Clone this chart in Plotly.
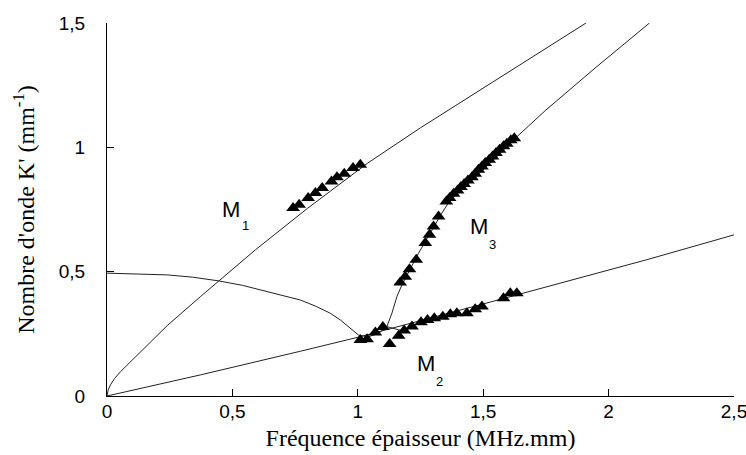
import plotly.graph_objects as go

# Dispersion curves (theory)
mode1_x = [0, 0.005, 0.014, 0.03, 0.054, 0.107, 0.24, 0.373, 0.445, 0.592, 0.80, 1.04,
           1.249, 1.429, 1.647, 1.91]
mode1_y = [0, 0.025, 0.045, 0.07, 0.098, 0.15, 0.283, 0.40, 0.463, 0.588, 0.755, 0.937,
           1.078, 1.192, 1.333, 1.5]

mode2_x = [0, 0.373, 0.771, 1.0, 1.5, 2.152, 2.5]
mode2_y = [0, 0.085, 0.18, 0.236, 0.37, 0.548, 0.648]

mode3_x = [0, 0.12, 0.24, 0.34, 0.445, 0.54, 0.638, 0.71, 0.771, 0.83, 0.89, 0.93, 0.97,
           1.003, 1.04, 1.08, 1.116, 1.136, 1.156, 1.176, 1.242, 1.296, 1.335, 1.369, 1.45,
           1.55, 1.621, 1.68, 1.75, 1.95, 2.163]
mode3_y = [0.494, 0.492, 0.487, 0.478, 0.463, 0.445, 0.42, 0.403, 0.386, 0.362, 0.333, 0.306,
           0.273, 0.245, 0.238, 0.25, 0.279, 0.333, 0.40, 0.447, 0.574, 0.668, 0.735, 0.789,
           0.862, 0.958, 1.03, 1.085, 1.15, 1.322, 1.5]

branch_x = [1.116, 1.14, 1.163, 1.196]
branch_y = [0.279, 0.272, 0.266, 0.262]

# Measured points
m1_x = [0.742, 0.766, 0.802, 0.831, 0.858, 0.895, 0.917, 0.946, 0.981, 1.010]
m1_y = [0.756, 0.769, 0.796, 0.816, 0.836, 0.863, 0.880, 0.894, 0.917, 0.930]

m2_x = [1.010, 1.037, 1.070, 1.100, 1.127, 1.163, 1.185, 1.216, 1.252, 1.278, 1.305, 1.339,
        1.369, 1.395, 1.435, 1.468, 1.495, 1.581, 1.608, 1.634]
m2_y = [0.225, 0.228, 0.255, 0.277, 0.209, 0.242, 0.263, 0.279, 0.297, 0.306, 0.313, 0.319,
        0.329, 0.333, 0.333, 0.349, 0.360, 0.393, 0.413, 0.413]

m3_x = [1.169, 1.189, 1.206, 1.233, 1.269, 1.286, 1.302, 1.322, 1.353, 1.366, 1.382, 1.398,
        1.411, 1.424, 1.439, 1.455, 1.468, 1.481, 1.495, 1.508, 1.524, 1.537, 1.551, 1.565,
        1.581, 1.594, 1.610, 1.624]
m3_y = [0.456, 0.480, 0.510, 0.548, 0.615, 0.648, 0.682, 0.722, 0.782, 0.796, 0.813, 0.826,
        0.840, 0.853, 0.867, 0.880, 0.894, 0.910, 0.923, 0.937, 0.950, 0.963, 0.977, 0.990,
        1.004, 1.014, 1.028, 1.037]

x_ticks = [0, 0.5, 1, 1.5, 2, 2.5]
x_labels = ["0", "0,5", "1", "1,5", "2", "2,5"]
y_ticks = [0, 0.5, 1, 1.5]
y_labels = ["0", "0,5", "1", "1,5"]

line_style = dict(color="#222222", width=1)

fig = go.Figure()
for xs, ys in [(mode1_x, mode1_y), (mode2_x, mode2_y), (mode3_x, mode3_y), (branch_x, branch_y)]:
    fig.add_trace(go.Scatter(x=xs, y=ys, mode="lines", line=line_style,
                             hoverinfo="skip", showlegend=False))

for xs, ys in [(m1_x, m1_y), (m2_x, m2_y), (m3_x, m3_y)]:
    fig.add_trace(go.Scatter(x=xs, y=ys, mode="markers",
                             marker=dict(symbol="triangle-up", size=12, color="black"),
                             showlegend=False))

sans_font = "Liberation Sans, Roboto"
title_font = "Liberation Serif, DejaVu Serif"

# Mode labels: "M" with a lowered index
mode_labels = [("1", 0.496, 0.749, 0.551, 0.684),
               ("2", 1.271, 0.130, 1.325, 0.058),
               ("3", 1.482, 0.683, 1.538, 0.609)]
for idx, mx, my, sx, sy in mode_labels:
    fig.add_annotation(x=mx, y=my, text="M", showarrow=False,
                       font=dict(family=sans_font, size=22, color="black"))
    fig.add_annotation(x=sx, y=sy, text=idx, showarrow=False,
                       font=dict(family=sans_font, size=13, color="black"))

axis_common = dict(showline=True, linecolor="black", linewidth=1, showgrid=False,
                   zeroline=False, ticks="inside", ticklen=7, tickcolor="black",
                   ticklabeloverflow="allow", automargin=False,
                   tickfont=dict(family=sans_font, size=19, color="black"))

fig.update_xaxes(range=[0, 2.5], tickvals=x_ticks, ticktext=x_labels, ticklabelstandoff=-2,
                 title=dict(text="Fréquence épaisseur (MHz.mm)",
                            font=dict(family=title_font, size=24, color="black"), standoff=8),
                 **axis_common)
fig.update_yaxes(range=[0, 1.5], tickvals=y_ticks, ticktext=y_labels, ticklabelstandoff=17,
                 title=dict(text="Nombre d'onde K' (mm<sup>-1</sup>)",
                            font=dict(family=title_font, size=24, color="black"), standoff=17),
                 **axis_common)

fig.update_layout(width=746, height=455, margin=dict(l=107, r=12, t=23, b=59),
                  plot_bgcolor="white", paper_bgcolor="white")

fig.write_html("out.html")
